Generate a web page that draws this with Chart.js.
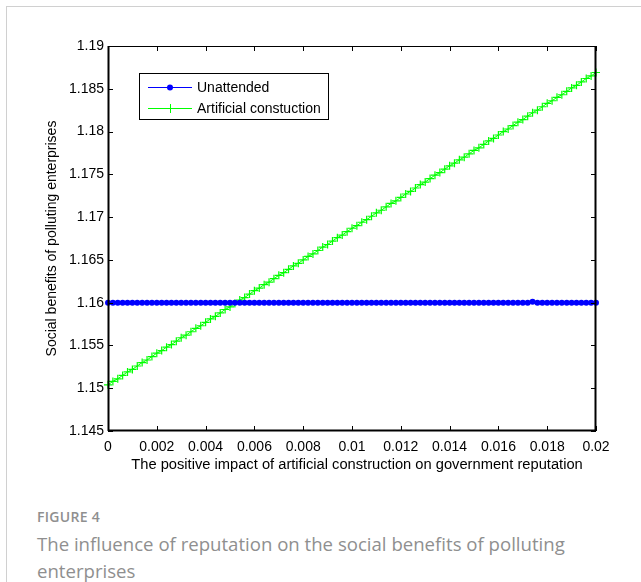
<!DOCTYPE html>
<html>
<head>
<meta charset="utf-8">
<script src="https://cdn.jsdelivr.net/npm/chart.js@4/dist/chart.umd.min.js"></script>
<style>
  html, body { margin: 0; padding: 0; background: #fff; }
  body { width: 641px; height: 582px; position: relative; overflow: hidden; }
  #card { position: absolute; left: 6px; top: 6px; width: 700px; height: 700px;
          border-left: 1px solid #d0d0d0; border-top: 1px solid #d0d0d0; }
  #wrap { position: absolute; left: 0; top: 0; width: 641px; height: 490px; }
  #fig { position: absolute; left: 37px; top: 507px; font-family: "Open Sans", sans-serif;
         font-size: 14px; font-weight: 600; color: #8f8f8f; letter-spacing: 0.3px; }
  #cap { position: absolute; left: 37px; top: 530px; width: 560px; font-family: "Open Sans", sans-serif;
         font-size: 18.6px; line-height: 27px; color: #8f8f8f; }
</style>
</head>
<body>
<div id="card"></div>
<div id="wrap"><canvas id="c" width="641" height="490"></canvas></div>
<div id="fig">FIGURE 4</div>
<div id="cap">The influence of reputation on the social benefits of polluting enterprises</div>
<script>
const xValues = [0,0.0002,0.0004,0.0006,0.0008,0.001,0.0012,0.0014,0.0016,0.0018,
  0.002,0.0022,0.0024,0.0026,0.0028,0.003,0.0032,0.0034,0.0036,0.0038,
  0.004,0.0042,0.0044,0.0046,0.0048,0.005,0.0052,0.0054,0.0056,0.0058,
  0.006,0.0062,0.0064,0.0066,0.0068,0.007,0.0072,0.0074,0.0076,0.0078,
  0.008,0.0082,0.0084,0.0086,0.0088,0.009,0.0092,0.0094,0.0096,0.0098,
  0.01,0.0102,0.0104,0.0106,0.0108,0.011,0.0112,0.0114,0.0116,0.0118,
  0.012,0.0122,0.0124,0.0126,0.0128,0.013,0.0132,0.0134,0.0136,0.0138,
  0.014,0.0142,0.0144,0.0146,0.0148,0.015,0.0152,0.0154,0.0156,0.0158,
  0.016,0.0162,0.0164,0.0166,0.0168,0.017,0.0172,0.0174,0.0176,0.0178,
  0.018,0.0182,0.0184,0.0186,0.0188,0.019,0.0192,0.0194,0.0196,0.0198,0.02];

const unattended = [1.16,1.16,1.16,1.16,1.16,1.16,1.16,1.16,1.16,1.16,
  1.16,1.16,1.16,1.16,1.16,1.16,1.16,1.16,1.16,1.16,
  1.16,1.16,1.16,1.16,1.16,1.16,1.16,1.16,1.16,1.16,
  1.16,1.16,1.16,1.16,1.16,1.16,1.16,1.16,1.16,1.16,
  1.16,1.16,1.16,1.16,1.16,1.16,1.16,1.16,1.16,1.16,
  1.16,1.16,1.16,1.16,1.16,1.16,1.16,1.16,1.16,1.16,
  1.16,1.16,1.16,1.16,1.16,1.16,1.16,1.16,1.16,1.16,
  1.16,1.16,1.16,1.16,1.16,1.16,1.16,1.16,1.16,1.16,
  1.16,1.16,1.16,1.16,1.16,1.16,1.16,1.1601,1.16,1.16,
  1.16,1.16,1.16,1.16,1.16,1.16,1.16,1.16,1.16,1.16,1.16];

const artificial = [1.1504,1.1508,1.1511,1.1515,1.1519,1.1522,1.1526,1.1530,1.1533,1.1537,
  1.1541,1.1544,1.1548,1.1551,1.1555,1.1559,1.1562,1.1566,1.1570,1.1573,
  1.1577,1.1581,1.1584,1.1588,1.1592,1.1595,1.1599,1.1603,1.1606,1.1610,
  1.1614,1.1617,1.1621,1.1624,1.1628,1.1632,1.1635,1.1639,1.1643,1.1646,
  1.1650,1.1654,1.1657,1.1661,1.1665,1.1668,1.1672,1.1676,1.1679,1.1683,
  1.1687,1.1690,1.1694,1.1697,1.1701,1.1705,1.1708,1.1712,1.1716,1.1719,
  1.1723,1.1727,1.1730,1.1734,1.1738,1.1741,1.1745,1.1749,1.1752,1.1756,
  1.1760,1.1763,1.1767,1.1770,1.1774,1.1778,1.1781,1.1785,1.1789,1.1792,
  1.1796,1.1800,1.1803,1.1807,1.1811,1.1814,1.1818,1.1822,1.1825,1.1829,
  1.1833,1.1836,1.1840,1.1843,1.1847,1.1851,1.1854,1.1858,1.1862,1.1865,1.1869];

const seriesNames = ['Unattended', 'Artificial constuction'];
const xTicks = [0,0.002,0.004,0.006,0.008,0.01,0.012,0.014,0.016,0.018,0.02];
const xTickLabels = ['0','0.002','0.004','0.006','0.008','0.01','0.012','0.014','0.016','0.018','0.02'];
const yTicks = [1.145,1.15,1.155,1.16,1.165,1.17,1.175,1.18,1.185,1.19];
const yTickLabels = ['1.145','1.15','1.155','1.16','1.165','1.17','1.175','1.18','1.185','1.19'];
const xTitle = 'The positive impact of artificial construction on government reputation';
const yTitle = 'Social benefits of polluting enterprises';

const FONT = '"Liberation Sans", Arial, sans-serif';
const BLUE = '#0000ff', GREEN = '#00ff00';

const toPts = ys => xValues.map((x, i) => ({ x: x, y: ys[i] }));

const matlabPlugin = {
  id: 'matlab',
  afterDatasetsDraw(chart) {
    const { ctx, chartArea: a, scales } = chart;
    const xs = scales.x, ys = scales.y;
    ctx.save();
    ctx.strokeStyle = '#000';
    ctx.lineWidth = 1;
    ctx.strokeRect(Math.round(a.left) + 0.5, Math.round(a.top) + 0.5,
                   Math.round(a.right - a.left) - 1, Math.round(a.bottom - a.top) - 1);
    ctx.lineWidth = 2;
    ctx.beginPath();
    ctx.moveTo(a.left, a.bottom - 0.5); ctx.lineTo(a.right, a.bottom - 0.5);
    ctx.moveTo(a.left + 0.5, a.top); ctx.lineTo(a.left + 0.5, a.bottom);
    ctx.moveTo(a.right - 0.5, a.top); ctx.lineTo(a.right - 0.5, a.bottom);
    ctx.stroke();
    ctx.lineWidth = 1;
    ctx.beginPath();
    const tl = 5;
    xTicks.forEach(v => {
      const px = Math.round(xs.getPixelForValue(v)) + 0.5;
      ctx.moveTo(px, a.bottom); ctx.lineTo(px, a.bottom - tl);
      ctx.moveTo(px, a.top); ctx.lineTo(px, a.top + tl);
    });
    yTicks.forEach(v => {
      const py = Math.round(ys.getPixelForValue(v)) + 0.5;
      ctx.moveTo(a.left, py); ctx.lineTo(a.left + tl, py);
      ctx.moveTo(a.right, py); ctx.lineTo(a.right - tl, py);
    });
    ctx.stroke();

    ctx.fillStyle = '#000';
    ctx.textAlign = 'center';
    ctx.textBaseline = 'middle';
    ctx.font = '14.7px ' + FONT;
    ctx.fillText(xTitle, (a.left + a.right) / 2 + 5, 465);
    ctx.font = '14px ' + FONT;
    ctx.save();
    ctx.translate(52, (a.top + a.bottom) / 2);
    ctx.rotate(-Math.PI / 2);
    ctx.fillText(yTitle, 0, 0);
    ctx.restore();

    const lx = 139, ly = 73, lw = 189, lh = 46;
    ctx.fillStyle = '#fff';
    ctx.fillRect(lx, ly, lw, lh);
    ctx.strokeStyle = '#000';
    ctx.lineWidth = 1;
    ctx.strokeRect(lx + 0.5, ly + 0.5, lw, lh);
    const rows = [ly + 14, ly + 35];
    chart.data.datasets.forEach((ds, i) => {
      const y = rows[i];
      ctx.strokeStyle = ds.borderColor;
      ctx.lineWidth = 1;
      ctx.beginPath();
      ctx.moveTo(148, y + 0.5); ctx.lineTo(192, y + 0.5);
      ctx.stroke();
      if (i === 0) {
        ctx.fillStyle = ds.borderColor;
        ctx.beginPath(); ctx.arc(170, y + 0.5, 3, 0, Math.PI * 2); ctx.fill();
      } else {
        ctx.beginPath();
        ctx.moveTo(170.5, y - 4); ctx.lineTo(170.5, y + 5);
        ctx.moveTo(166, y + 0.5); ctx.lineTo(175, y + 0.5);
        ctx.stroke();
      }
      ctx.fillStyle = '#000';
      ctx.textAlign = 'left';
      ctx.font = '14px ' + FONT;
      ctx.fillText(ds.label, 197, y + 1);
    });
    ctx.restore();
  }
};

new Chart(document.getElementById('c'), {
  type: 'line',
  data: {
    datasets: [
      { label: seriesNames[0], data: toPts(unattended), borderColor: BLUE, backgroundColor: BLUE,
        borderWidth: 1, pointStyle: 'circle', pointRadius: 3, pointBorderWidth: 0,
        pointBackgroundColor: BLUE, fill: false, tension: 0, clip: false },
      { label: seriesNames[1], data: toPts(artificial), borderColor: GREEN, backgroundColor: GREEN,
        borderWidth: 1, pointStyle: 'cross', pointRadius: 4, pointBorderWidth: 1.2,
        pointBorderColor: GREEN, fill: false, tension: 0, clip: false }
    ]
  },
  options: {
    responsive: false,
    animation: false,
    events: [],
    layout: { padding: { left: 0, top: 46, right: 45, bottom: 0 } },
    plugins: { legend: { display: false }, tooltip: { enabled: false } },
    scales: {
      x: {
        type: 'linear', min: 0, max: 0.02,
        afterBuildTicks: s => { s.ticks = xTicks.map(v => ({ value: v })); },
        afterFit: s => { s.height = 59; },
        grid: { display: false, drawTicks: false },
        border: { display: false },
        ticks: { autoSkip: false, maxRotation: 0, padding: 8, color: '#000',
                 font: { family: FONT, size: 14 },
                 callback: (v, i) => xTickLabels[i] }
      },
      y: {
        type: 'linear', min: 1.145, max: 1.19,
        afterBuildTicks: s => { s.ticks = yTicks.map(v => ({ value: v })); },
        afterFit: s => { s.width = 108; },
        grid: { display: false, drawTicks: false },
        border: { display: false },
        ticks: { autoSkip: false, padding: 4, color: '#000',
                 font: { family: FONT, size: 14 },
                 callback: (v, i) => yTickLabels[i] }
      }
    }
  },
  plugins: [matlabPlugin]
});
</script>
</body>
</html>
